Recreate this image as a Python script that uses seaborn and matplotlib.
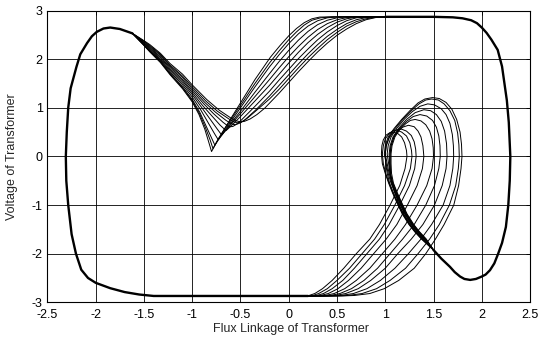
import numpy as np
import matplotlib
matplotlib.use("Agg")
import matplotlib.pyplot as plt
import seaborn as sns

# ---------------- data ----------------
x_ticks = [-2.5, -2, -1.5, -1, -0.5, 0, 0.5, 1, 1.5, 2, 2.5]
x_tick_labels = ["-2.5", "-2", "-1.5", "-1", "-0.5", "0", "0.5", "1", "1.5", "2", "2.5"]
y_ticks = [-3, -2, -1, 0, 1, 2, 3]
y_tick_labels = ["-3", "-2", "-1", "0", "1", "2", "3"]

# shared outer path: top plateau -> right side -> trough (many overlapping orbits)
right_x = [1.00, 1.50, 1.70, 1.80, 1.89, 1.95, 2.00, 2.05, 2.10, 2.165, 2.21, 2.235, 2.26,
           2.28, 2.296, 2.29, 2.275, 2.25, 2.21, 2.17, 2.13, 2.085, 2.04, 2.00, 1.94, 1.88,
           1.82, 1.775, 1.72, 1.67, 1.58, 1.50]
right_y = [2.87, 2.87, 2.86, 2.84, 2.80, 2.74, 2.65, 2.54, 2.40, 2.19, 1.85, 1.50, 1.15,
           0.70, 0.00, -0.50, -1.00, -1.45, -1.78, -2.00, -2.20, -2.34, -2.43, -2.47, -2.52,
           -2.54, -2.52, -2.47, -2.38, -2.27, -2.10, -1.925]

# shared outer path: bottom plateau -> left side -> peak
left_x = [0.20, -1.40, -1.55, -1.70, -1.85, -2.00, -2.08, -2.15, -2.205, -2.25, -2.285,
          -2.305, -2.31, -2.30, -2.285, -2.26, -2.20, -2.16, -2.09, -2.04, -1.99, -1.92,
          -1.85, -1.75, -1.62]
left_y = [-2.87, -2.87, -2.84, -2.79, -2.71, -2.60, -2.50, -2.33, -2.00, -1.60, -1.00,
          -0.50, 0.00, 0.50, 1.00, 1.40, 1.84, 2.10, 2.33, 2.47, 2.56, 2.63, 2.65, 2.62, 2.53]

# V-shaped dips (peak -> dip -> rise to top plateau), one per orbit
v_x = [
    [-1.62, -1.50, -1.44, -1.33, -1.23, -1.10, -1.00, -0.93, -0.87, -0.83, -0.80, -0.74, -0.65,
     -0.50, -0.35, -0.19, -0.09, 0.00, 0.08, 0.16, 0.24, 0.32, 0.45, 1.00],
    [-1.62, -1.50, -1.44, -1.33, -1.23, -1.10, -1.00, -0.925, -0.865, -0.815, -0.785, -0.73,
     -0.64, -0.50, -0.35, -0.20, -0.10, 0.00, 0.08, 0.16, 0.24, 0.33, 0.45, 1.00],
    [-1.62, -1.50, -1.44, -1.33, -1.23, -1.10, -1.00, -0.92, -0.86, -0.80, -0.765, -0.71, -0.62,
     -0.50, -0.35, -0.20, -0.10, 0.00, 0.10, 0.20, 0.30, 0.40, 0.52, 1.00],
    [-1.62, -1.50, -1.44, -1.33, -1.23, -1.10, -1.00, -0.91, -0.84, -0.77, -0.73, -0.68, -0.60,
     -0.50, -0.35, -0.20, -0.10, 0.00, 0.10, 0.20, 0.30, 0.40, 0.50, 0.60, 1.00],
    [-1.62, -1.50, -1.44, -1.33, -1.23, -1.10, -1.00, -0.90, -0.82, -0.74, -0.695, -0.65, -0.58,
     -0.50, -0.35, -0.20, -0.10, 0.00, 0.10, 0.20, 0.30, 0.40, 0.50, 0.60, 0.70, 1.00],
    [-1.62, -1.50, -1.44, -1.33, -1.23, -1.10, -1.00, -0.89, -0.80, -0.71, -0.65, -0.60, -0.50,
     -0.35, -0.20, -0.10, 0.00, 0.10, 0.20, 0.30, 0.40, 0.50, 0.60, 0.70, 0.78, 1.00],
    [-1.62, -1.50, -1.44, -1.33, -1.23, -1.10, -1.00, -0.88, -0.78, -0.68, -0.64, -0.61, -0.58,
     -0.55, -0.50, -0.35, -0.20, -0.10, 0.00, 0.10, 0.20, 0.30, 0.40, 0.50, 0.60, 0.70, 0.82, 1.00],
    [-1.62, -1.50, -1.44, -1.33, -1.23, -1.10, -1.00, -0.87, -0.76, -0.65, -0.60, -0.57, -0.54,
     -0.50, -0.45, -0.35, -0.20, -0.10, 0.00, 0.10, 0.20, 0.30, 0.40, 0.50, 0.60, 0.70, 0.80,
     0.90, 1.00],
    [-1.62, -1.50, -1.44, -1.33, -1.23, -1.10, -1.00, -0.86, -0.74, -0.62, -0.57, -0.535, -0.50,
     -0.46, -0.42, -0.35, -0.20, -0.10, 0.00, 0.10, 0.20, 0.30, 0.40, 0.50, 0.60, 0.70, 0.80,
     0.90, 0.98, 1.05],
    [-1.62, -1.50, -1.44, -1.33, -1.23, -1.10, -1.00, -0.85, -0.72, -0.60, -0.54, -0.50, -0.46,
     -0.40, -0.33, -0.25, -0.10, 0.00, 0.10, 0.20, 0.30, 0.40, 0.50, 0.60, 0.70, 0.80, 0.90,
     1.00, 1.10],
]
v_y = [
    [2.53, 2.28, 2.15, 1.93, 1.68, 1.39, 1.12, 0.86, 0.56, 0.30, 0.10, 0.32, 0.62, 1.10, 1.58,
     2.04, 2.28, 2.48, 2.63, 2.75, 2.83, 2.865, 2.87, 2.87],
    [2.53, 2.285, 2.16, 1.945, 1.695, 1.41, 1.145, 0.88, 0.60, 0.34, 0.16, 0.36, 0.64, 1.05,
     1.50, 1.92, 2.17, 2.40, 2.56, 2.70, 2.80, 2.85, 2.87, 2.87],
    [2.53, 2.29, 2.17, 1.96, 1.71, 1.43, 1.17, 0.90, 0.64, 0.38, 0.23, 0.40, 0.66, 1.00, 1.43,
     1.84, 2.09, 2.32, 2.52, 2.68, 2.79, 2.85, 2.87, 2.87],
    [2.53, 2.30, 2.18, 1.98, 1.74, 1.47, 1.22, 0.95, 0.71, 0.47, 0.34, 0.47, 0.68, 0.93, 1.32,
     1.70, 1.95, 2.18, 2.39, 2.57, 2.71, 2.80, 2.85, 2.87, 2.87],
    [2.53, 2.32, 2.20, 2.00, 1.77, 1.51, 1.27, 1.00, 0.78, 0.56, 0.44, 0.54, 0.70, 0.88, 1.23,
     1.58, 1.82, 2.05, 2.26, 2.45, 2.61, 2.73, 2.81, 2.855, 2.87, 2.87],
    [2.53, 2.33, 2.22, 2.03, 1.80, 1.55, 1.31, 1.04, 0.84, 0.64, 0.53, 0.62, 0.82, 1.14, 1.46,
     1.69, 1.92, 2.14, 2.34, 2.51, 2.65, 2.76, 2.83, 2.865, 2.87, 2.87],
    [2.53, 2.34, 2.24, 2.05, 1.83, 1.58, 1.35, 1.08, 0.88, 0.70, 0.64, 0.61, 0.615, 0.65, 0.73,
     1.03, 1.34, 1.57, 1.79, 2.01, 2.21, 2.40, 2.56, 2.69, 2.79, 2.85, 2.87, 2.87],
    [2.53, 2.36, 2.26, 2.08, 1.86, 1.62, 1.39, 1.11, 0.91, 0.74, 0.68, 0.655, 0.66, 0.69, 0.76,
     0.94, 1.24, 1.46, 1.68, 1.90, 2.11, 2.30, 2.47, 2.61, 2.73, 2.81, 2.855, 2.87, 2.87],
    [2.53, 2.37, 2.28, 2.10, 1.88, 1.65, 1.43, 1.14, 0.93, 0.77, 0.715, 0.69, 0.70, 0.74, 0.80,
     0.92, 1.18, 1.38, 1.60, 1.82, 2.03, 2.22, 2.40, 2.55, 2.68, 2.77, 2.83, 2.86, 2.87, 2.87],
    [2.53, 2.38, 2.30, 2.12, 1.91, 1.69, 1.47, 1.17, 0.95, 0.79, 0.73, 0.71, 0.72, 0.77, 0.86,
     0.99, 1.30, 1.52, 1.74, 1.95, 2.15, 2.33, 2.49, 2.62, 2.73, 2.81, 2.855, 2.87, 2.87],
]

# inner loops: rising band from the trough (shared heights), then loop, then falling fan
band_y = [-1.925, -1.70, -1.55, -1.40, -1.18, -0.97, -0.75, -0.55, -0.35, -0.15]
band_x = [
    [1.50, 1.40, 1.33, 1.27, 1.20, 1.15, 1.10, 1.06, 1.03, 1.01],
    [1.50, 1.41, 1.34, 1.28, 1.21, 1.16, 1.11, 1.07, 1.04, 1.02],
    [1.50, 1.42, 1.35, 1.29, 1.22, 1.17, 1.12, 1.08, 1.05, 1.035],
    [1.50, 1.39, 1.32, 1.26, 1.19, 1.14, 1.10, 1.07, 1.05, 1.045],
    [1.50, 1.415, 1.345, 1.285, 1.215, 1.165, 1.115, 1.075, 1.055, 1.05],
    [1.50, 1.425, 1.355, 1.295, 1.225, 1.175, 1.125, 1.085, 1.065, 1.06],
    [1.50, 1.405, 1.335, 1.275, 1.205, 1.155, 1.105, 1.065, 1.05, 1.05],
    [1.50, 1.385, 1.315, 1.255, 1.185, 1.135, 1.085, 1.045, 1.02, 1.005],
    [1.50, 1.38, 1.31, 1.25, 1.18, 1.13, 1.08, 1.04, 1.005, 0.98],
    [1.50, 1.375, 1.305, 1.245, 1.175, 1.125, 1.075, 1.035, 1.00, 0.97],
]
loop_x = [
    [0.99, 1.00, 1.03, 1.09, 1.17, 1.26, 1.34, 1.41, 1.49, 1.56, 1.63, 1.69, 1.74, 1.775, 1.79],
    [1.00, 1.01, 1.04, 1.10, 1.18, 1.27, 1.35, 1.42, 1.48, 1.55, 1.61, 1.67, 1.72, 1.75, 1.763],
    [1.02, 1.03, 1.06, 1.12, 1.20, 1.28, 1.36, 1.44, 1.51, 1.58, 1.63, 1.67, 1.695, 1.706],
    [1.04, 1.05, 1.08, 1.14, 1.22, 1.31, 1.40, 1.47, 1.53, 1.58, 1.615, 1.635],
    [1.05, 1.06, 1.09, 1.15, 1.22, 1.29, 1.36, 1.43, 1.49, 1.53, 1.555, 1.567],
    [1.06, 1.07, 1.10, 1.15, 1.21, 1.26, 1.31, 1.37, 1.42, 1.46, 1.485, 1.497],
    [1.05, 1.06, 1.09, 1.13, 1.18, 1.24, 1.30, 1.34, 1.37, 1.39],
    [1.00, 1.01, 1.04, 1.08, 1.12, 1.17, 1.22, 1.27, 1.30, 1.315],
    [0.97, 0.98, 1.00, 1.04, 1.08, 1.12, 1.17, 1.22, 1.255, 1.272],
    [0.96, 0.965, 0.98, 1.01, 1.05, 1.08, 1.13, 1.17, 1.20, 1.22],
]
loop_y = [
    [0.05, 0.22, 0.40, 0.57, 0.76, 0.95, 1.10, 1.18, 1.21, 1.19, 1.11, 0.97, 0.76, 0.50, 0.25],
    [0.05, 0.22, 0.40, 0.57, 0.76, 0.94, 1.08, 1.16, 1.18, 1.16, 1.08, 0.94, 0.74, 0.48, 0.24],
    [0.05, 0.22, 0.40, 0.58, 0.77, 0.92, 1.03, 1.08, 1.06, 0.98, 0.86, 0.68, 0.45, 0.22],
    [0.05, 0.22, 0.40, 0.58, 0.76, 0.90, 0.96, 0.94, 0.86, 0.72, 0.52, 0.26],
    [0.05, 0.22, 0.40, 0.58, 0.72, 0.82, 0.86, 0.83, 0.74, 0.60, 0.42, 0.22],
    [0.05, 0.22, 0.40, 0.55, 0.67, 0.74, 0.76, 0.73, 0.65, 0.52, 0.36, 0.18],
    [0.05, 0.22, 0.40, 0.52, 0.60, 0.64, 0.61, 0.52, 0.40, 0.22],
    [0.05, 0.22, 0.38, 0.49, 0.55, 0.56, 0.52, 0.43, 0.30, 0.15],
    [0.05, 0.22, 0.36, 0.47, 0.53, 0.54, 0.50, 0.42, 0.28, 0.12],
    [0.05, 0.22, 0.34, 0.44, 0.49, 0.50, 0.47, 0.40, 0.28, 0.12],
]
fan_y = [0.0, -0.25, -0.6, -1.0, -1.4, -1.7, -2.0, -2.3, -2.55, -2.72, -2.82, -2.86, -2.87, -2.87]
fan_x = [
    [1.795, 1.785, 1.76, 1.71, 1.61, 1.52, 1.42, 1.30, 1.14, 0.99, 0.84, 0.68, 0.55, 0.10],
    [1.767, 1.757, 1.73, 1.665, 1.56, 1.46, 1.34, 1.21, 1.05, 0.91, 0.76, 0.61, 0.49, 0.10],
    [1.709, 1.70, 1.67, 1.60, 1.48, 1.37, 1.24, 1.10, 0.95, 0.81, 0.67, 0.54, 0.44, 0.10],
    [1.64, 1.63, 1.59, 1.51, 1.39, 1.27, 1.13, 1.00, 0.85, 0.72, 0.59, 0.48, 0.39, 0.10],
    [1.57, 1.555, 1.51, 1.42, 1.30, 1.18, 1.05, 0.92, 0.78, 0.65, 0.53, 0.43, 0.35, 0.10],
    [1.50, 1.485, 1.43, 1.33, 1.21, 1.10, 0.97, 0.84, 0.70, 0.58, 0.47, 0.38, 0.31, 0.10],
    [1.40, 1.385, 1.33, 1.23, 1.12, 1.01, 0.88, 0.75, 0.62, 0.51, 0.41, 0.33, 0.27, 0.10],
    [1.32, 1.305, 1.25, 1.15, 1.04, 0.94, 0.81, 0.68, 0.56, 0.45, 0.36, 0.29, 0.24, 0.10],
    [1.277, 1.26, 1.20, 1.10, 0.99, 0.89, 0.76, 0.63, 0.50, 0.40, 0.31, 0.25, 0.20, 0.10],
    [1.225, 1.205, 1.15, 1.05, 0.94, 0.84, 0.70, 0.57, 0.45, 0.35, 0.27, 0.21, 0.17, 0.10],
]

# ---------------- figure ----------------
sns.set_style("white")
plt.rcParams["font.family"] = ["Liberation Sans", "DejaVu Sans"]
plt.rcParams["axes.unicode_minus"] = False

fig = plt.figure(figsize=(5.42, 3.37), dpi=100)
ax = fig.add_axes([0.0876, 0.103, 0.8903, 0.8658])

thin = 0.7
thick = 1.7

for xs, ys in zip(v_x, v_y):
    sns.lineplot(x=xs, y=ys, sort=False, estimator=None, color="black",
                 linewidth=thin, ax=ax)

for bx, lx, ly, fx in zip(band_x, loop_x, loop_y, fan_x):
    xs = list(bx) + list(lx) + list(fx)
    ys = list(band_y) + list(ly) + list(fan_y)
    sns.lineplot(x=xs, y=ys, sort=False, estimator=None, color="black",
                 linewidth=thin, ax=ax)

sns.lineplot(x=right_x, y=right_y, sort=False, estimator=None, color="black",
             linewidth=thick, ax=ax)
sns.lineplot(x=left_x, y=left_y, sort=False, estimator=None, color="black",
             linewidth=thick, ax=ax)

ax.set_xlim(-2.5, 2.5)
ax.set_ylim(-3, 3)
ax.set_xticks(x_ticks)
ax.set_xticklabels(x_tick_labels)
ax.set_yticks(y_ticks)
ax.set_yticklabels(y_tick_labels)
ax.grid(True, color="black", linewidth=0.6, linestyle="-")
ax.set_axisbelow(True)
ax.tick_params(direction="in", top=True, right=True, length=3, width=0.6,
               labelsize=9, colors="black")
ax.tick_params(axis="x", pad=4.5)
ax.tick_params(axis="y", pad=3.5)
for s in ax.spines.values():
    s.set_color("black")
    s.set_linewidth(0.8)
ax.set_xlabel("Flux Linkage of Transformer", fontsize=9)
ax.set_ylabel("Voltage of Transformer", fontsize=9)
ax.xaxis.set_label_coords(0.505, -0.072)
ax.yaxis.set_label_coords(-0.062, 0.5)

fig.savefig("out.png", dpi=100)
